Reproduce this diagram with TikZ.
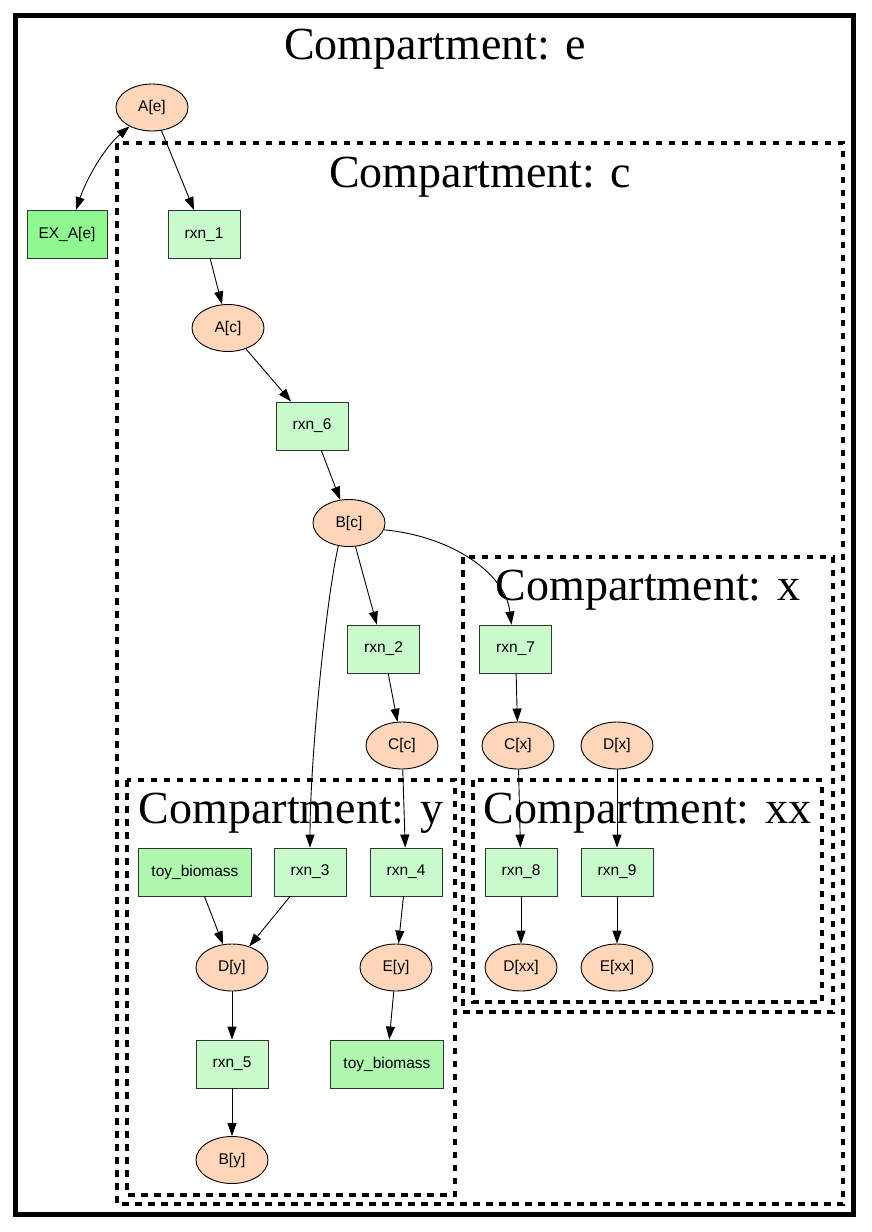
\documentclass[tikz,border=0pt]{standalone}
\usepackage{fontspec}
\newfontfamily\nodefont{Liberation Sans}
\newfontfamily\compfont{Liberation Serif}
\usetikzlibrary{shapes.geometric,arrows.meta}
\definecolor{peach}{RGB}{255,214,186}
\definecolor{rxngreen}{RGB}{200,250,204}
\definecolor{exgreen}{RGB}{144,248,144}
\definecolor{biogreen}{RGB}{176,248,176}
\definecolor{boxedge}{RGB}{51,51,51}
\tikzset{
  met/.style={ellipse,draw=black,line width=0.9pt,fill=peach,minimum width=72pt,minimum height=47pt,inner sep=0pt,font=\nodefont\fontsize{15.5}{18}\selectfont},
  rxnbox/.style={rectangle,draw=boxedge,line width=0.9pt,fill=rxngreen,minimum width=72pt,minimum height=48pt,inner sep=0pt,font=\nodefont\fontsize{15.5}{18}\selectfont},
  exbox/.style={rxnbox,fill=exgreen,minimum width=80pt},
  biobox/.style={rxnbox,fill=biogreen,minimum width=113pt},
  outerbox/.style={draw=black,line width=5pt},
  compbox/.style={draw=black,line width=4.5pt,dash pattern=on 6.5pt off 6.5pt},
  complabel/.style={anchor=base,inner sep=0pt,font=\compfont\fontsize{46}{50}\selectfont},
  edge/.style={draw=black,line width=0.9pt,-{Triangle[length=13pt,width=9pt]}},
  biedge/.style={draw=black,line width=0.9pt,{Triangle[length=13pt,width=9pt]}-{Triangle[length=13pt,width=9pt]}}
}
\begin{document}
\begin{tikzpicture}[x=1pt,y=-1pt]
\fill[white] (0,0) rectangle (871,1232);
\useasboundingbox (0,0) rectangle (871,1232);
% compartments
\draw[outerbox] (15.5,15.5) rectangle (853,1214);
\draw[compbox] (117,143) rectangle (843,1204);
\draw[compbox] (463,557) rectangle (833,1012);
\draw[compbox] (127,780) rectangle (455,1195);
\draw[compbox] (473,780) rectangle (822,1002);
\node[complabel] (le) at (435,59) {Compartment: e};
\node[complabel] (lc) at (480,187) {Compartment: c};
\node[complabel] (lx) at (648,600) {Compartment: x};
\node[complabel] (ly) at (291,823) {Compartment: y};
\node[complabel] (lxx) at (647.5,823) {Compartment: xx};
% nodes
\node[met] (Ae) at (152,107.5) {A[e]};
\node[exbox] (EX) at (67,234.5) {EX\_A[e]};
\node[rxnbox] (r1) at (204,234.5) {rxn\_1};
\node[met] (Ac) at (228,328) {A[c]};
\node[rxnbox] (r6) at (312,426) {rxn\_6};
\node[met] (Bc) at (349,523) {B[c]};
\node[rxnbox] (r2) at (383.5,649) {rxn\_2};
\node[rxnbox] (r7) at (515.5,649) {rxn\_7};
\node[met] (Cc) at (402,745.5) {C[c]};
\node[met] (Cx) at (518,745.5) {C[x]};
\node[met] (Dx) at (617,745.5) {D[x]};
\node[biobox] (tb1) at (195,872) {toy\_biomass};
\node[rxnbox] (r3) at (310,872) {rxn\_3};
\node[rxnbox] (r4) at (406,872) {rxn\_4};
\node[rxnbox] (r8) at (521,872) {rxn\_8};
\node[rxnbox] (r9) at (617,872) {rxn\_9};
\node[met] (Dy) at (232,967.5) {D[y]};
\node[met] (Ey) at (396,967.5) {E[y]};
\node[met] (Dxx) at (521,967.5) {D[xx]};
\node[met] (Exx) at (617,967.5) {E[xx]};
\node[rxnbox] (r5) at (232,1064) {rxn\_5};
\node[biobox] (tb2) at (387,1064) {toy\_biomass};
\node[met] (By) at (232,1160) {B[y]};
% edges
\draw[biedge] (Ae.220) .. controls (104,148) and (86,180) .. ([xshift=9pt]EX.north);
\draw[edge] (Ae) -- (r1);
\draw[edge] (r1) -- (Ac);
\draw[edge] (Ac) -- (r6);
\draw[edge] (r6) -- (Bc);
\draw[edge] (Bc) -- (r2);
\draw[edge] (Bc.245) .. controls (326,600) and (310,760) .. (r3.north);
\draw[edge] (Bc.-11) .. controls (450,536) and (505,572) .. ([xshift=-4pt]r7.north);
\draw[edge] (r2) -- (Cc);
\draw[edge] (Cc) -- (r4);
\draw[edge] (r7) -- (Cx);
\draw[edge] (Cx) -- (r8);
\draw[edge] (Dx) -- (r9);
\draw[edge] (r8) -- (Dxx);
\draw[edge] (r9) -- (Exx);
\draw[edge] (tb1) -- (Dy);
\draw[edge] (r3) -- (Dy);
\draw[edge] (r4) -- (Ey);
\draw[edge] (Ey) -- (tb2);
\draw[edge] (Dy) -- (r5);
\draw[edge] (r5) -- (By);
\end{tikzpicture}
\end{document}
